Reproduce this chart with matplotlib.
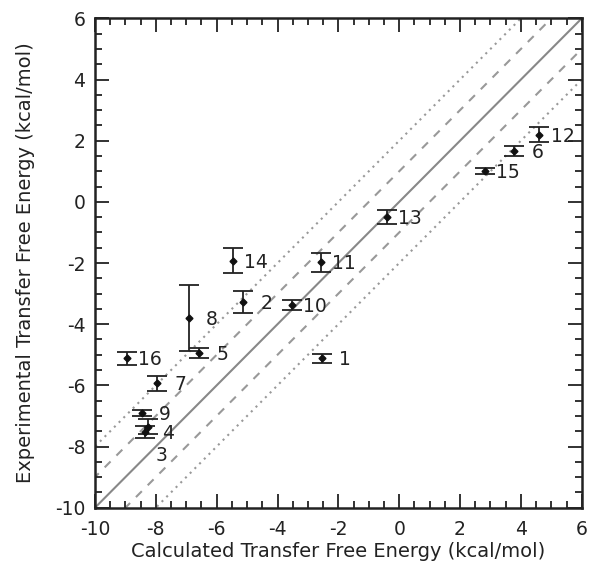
import matplotlib
matplotlib.use("Agg")
import matplotlib.pyplot as plt
import numpy as np
from matplotlib.ticker import MultipleLocator

# Compound labels and values (kcal/mol)
labels = ['1', '2', '3', '4', '5', '6', '7', '8', '9', '10', '11', '12', '13', '14', '15', '16']
calc = [-2.54, -5.12, -8.25, -8.37, -6.57, 3.78, -7.95, -6.91, -8.45, -3.53, -2.58, 4.61, -0.40, -5.45, 2.81, -8.96]
exp = [-5.12, -3.27, -7.35, -7.52, -4.93, 1.67, -5.93, -3.81, -6.90, -3.38, -1.98, 2.20, -0.49, -1.93, 1.01, -5.12]
err = [0.15, 0.35, 0.25, 0.20, 0.16, 0.17, 0.24, 1.08, 0.11, 0.16, 0.30, 0.25, 0.24, 0.41, 0.10, 0.20]

plt.rcParams['axes.unicode_minus'] = False
plt.rcParams['font.family'] = 'DejaVu Sans'

fig = plt.figure(figsize=(5.9, 5.67), dpi=100)
ax = fig.add_axes([0.161, 0.1046, 0.825, 0.863])

# Reference lines: y = x, +/-1 (dashed), +/-2 (dotted)
xx = np.array([-12, 8])
ax.plot(xx, xx, color='#888888', lw=1.5, zorder=1)
for off in (-1, 1):
    ax.plot(xx, xx + off, color='#999999', lw=1.5, ls=(0, (4, 4)), zorder=1)
for off in (-2, 2):
    ax.plot(xx, xx + off, color='#999999', lw=1.5, ls=(0, (1, 2.2)), zorder=1)

ax.errorbar(calc, exp, yerr=err, fmt='D', color='#111111', ms=3.5,
            ecolor='#222222', elinewidth=1.3, capsize=7, capthick=1.3, zorder=3)

# Label offsets in pixels (label 3 sits below the overlapping pair)
for i, lab in enumerate(labels):
    dx, dy = (13, -29) if lab == '3' else (23, -1.5)
    ax.annotate(lab, xy=(calc[i], exp[i]), xytext=(dx, dy), textcoords='offset pixels',
                ha='center', va='center', fontsize=13.5, color='#222222')

ax.set_xlim(-10, 6)
ax.set_ylim(-10, 6)
ax.xaxis.set_major_locator(MultipleLocator(2))
ax.yaxis.set_major_locator(MultipleLocator(2))
ax.xaxis.set_minor_locator(MultipleLocator(0.5))
ax.yaxis.set_minor_locator(MultipleLocator(0.5))
ax.tick_params(which='both', direction='in', top=True, right=True, labelsize=13.5, colors='#222222')
ax.tick_params(which='major', length=10, width=1.3)
ax.tick_params(which='minor', length=5, width=1.3)
ax.tick_params(axis='x', which='major', pad=9)
ax.tick_params(axis='y', which='major', pad=7)
for sp in ax.spines.values():
    sp.set_linewidth(1.8)
    sp.set_color('#222222')

ax.set_xlabel('Calculated Transfer Free Energy (kcal/mol)', fontsize=14, color='#222222', labelpad=2)
ax.set_ylabel('Experimental Transfer Free Energy (kcal/mol)', fontsize=14, color='#222222', labelpad=14)

fig.savefig('out.png', dpi=100)
